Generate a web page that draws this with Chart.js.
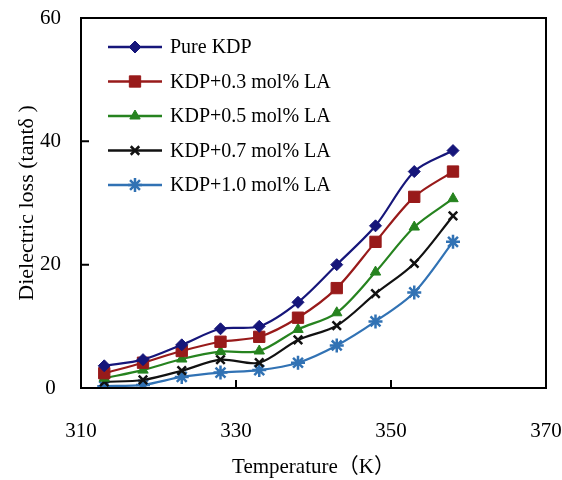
<!DOCTYPE html>
<html>
<head>
<meta charset="utf-8">
<script src="https://cdn.jsdelivr.net/npm/chart.js@4/dist/chart.umd.min.js"></script>
<style>
	body { margin: 0; background: #fff; }
	#wrap { width: 562px; height: 480px; }
</style>
</head>
<body>
<div id="wrap"><canvas id="ID_DielectricLoss" width="562" height="480"></canvas></div>
<script>
/*
  Dielectric loss vs temperature
*/
const temperatures = [313, 318, 323, 328, 333, 338, 343, 348, 353, 358];
const seriesNames = ['Pure KDP', 'KDP+0.3 mol% LA', 'KDP+0.5 mol% LA', 'KDP+0.7 mol% LA', 'KDP+1.0 mol% LA'];
const pureKDP = [3.6, 4.6, 7.0, 9.6, 10.0, 13.9, 20.0, 26.3, 35.1, 38.5];
const la03 = [2.4, 4.1, 6.0, 7.5, 8.3, 11.4, 16.2, 23.7, 31.0, 35.1];
const la05 = [1.6, 2.9, 4.7, 5.9, 6.0, 9.5, 12.2, 18.8, 26.1, 30.7];
const la07 = [1.0, 1.3, 2.8, 4.6, 4.1, 7.8, 10.1, 15.3, 20.2, 27.9];
const la10 = [0.3, 0.5, 1.8, 2.5, 2.9, 4.1, 6.9, 10.8, 15.5, 23.7];
const xTicks = [310, 330, 350, 370];
const yTicks = [0, 20, 40, 60];

const FONT = "'Liberation Serif', 'Noto Sans CJK SC', serif";
const colors = ['#16167a', '#981a1a', '#26831f', '#111111', '#3172b4'];
const markers = ['rectRot', 'rect', 'triangle', 'crossRot', 'star'];
const radii = [6, 8, 6, 6, 7];

function toPoints(values) {
	return values.map(function (v, i) { return { x: temperatures[i], y: v }; });
}

const datasets = [pureKDP, la03, la05, la07, la10].map(function (values, i) {
	return {
		label: seriesNames[i],
		data: toPoints(values),
		borderColor: colors[i],
		backgroundColor: colors[i],
		borderWidth: 2.2,
		pointStyle: markers[i],
		pointRadius: radii[i],
		pointBorderWidth: (i >= 3) ? 2.5 : 1,
		tension: 0.3
	};
});

// no extra room for label overhang, the frame is fixed
function noOverhang(scale) {
	scale.paddingLeft = 0; scale.paddingRight = 0;
	scale.paddingTop = 0; scale.paddingBottom = 0;
}

// frame, inward tick marks and the in-plot legend
const framePlugin = {
	id: 'frame',
	afterDraw: function (chart) {
		const ctx = chart.ctx, a = chart.chartArea;
		const xs = chart.scales.x, ys = chart.scales.y;
		ctx.save();
		ctx.strokeStyle = '#000';
		ctx.lineWidth = 2;
		ctx.strokeRect(a.left, a.top, a.right - a.left, a.bottom - a.top);
		ctx.beginPath();
		yTicks.slice(1, -1).forEach(function (v) {
			const y = ys.getPixelForValue(v);
			ctx.moveTo(a.left, y); ctx.lineTo(a.left + 8, y);
		});
		xTicks.slice(1, -1).forEach(function (v) {
			const x = xs.getPixelForValue(v);
			ctx.moveTo(x, a.bottom); ctx.lineTo(x, a.bottom - 8);
		});
		ctx.stroke();

		// legend
		ctx.font = '20px ' + FONT;
		ctx.textBaseline = 'middle';
		ctx.textAlign = 'left';
		chart.data.datasets.forEach(function (ds, i) {
			const y = a.top + 29 + i * 34.5;
			const x0 = a.left + 27, x1 = a.left + 81;
			ctx.strokeStyle = ds.borderColor;
			ctx.lineWidth = 2.5;
			ctx.beginPath(); ctx.moveTo(x0, y); ctx.lineTo(x1, y); ctx.stroke();
			ctx.fillStyle = ds.backgroundColor;
			ctx.lineWidth = ds.pointBorderWidth;
			if (Chart.helpers && Chart.helpers.drawPoint) {
				Chart.helpers.drawPoint(ctx, { pointStyle: ds.pointStyle, radius: ds.pointRadius, rotation: 0, borderWidth: ds.pointBorderWidth }, (x0 + x1) / 2, y);
			}
			ctx.fillStyle = '#000';
			ctx.fillText(ds.label, a.left + 89, y + 1);
		});
		ctx.restore();
	}
};

let chartLine = new Chart(document.getElementById('ID_DielectricLoss'), {
	type: 'line',
	plugins: [framePlugin],
	data: { datasets: datasets },
	options: {
		responsive: false,
		animation: false,
		layout: { padding: { top: 18, right: 16, left: 0, bottom: 0 } },
		plugins: {
			legend: { display: false },
			tooltip: { enabled: false }
		},
		scales: {
			x: {
				type: 'linear',
				min: 310,
				max: 370,
				afterBuildTicks: function (scale) { scale.ticks = xTicks.map(function (v) { return { value: v }; }); },
				afterFit: function (scale) { scale.height = 92; noOverhang(scale); },
				grid: { display: false, drawTicks: false },
				border: { display: false },
				ticks: { color: '#000', padding: 31, maxRotation: 0, font: { family: FONT, size: 21 } },
				title: { display: true, text: 'Temperature（K）', color: '#000', padding: { top: 0, bottom: 0 }, font: { family: FONT, size: 21 } }
			},
			y: {
				min: 0,
				max: 60,
				afterBuildTicks: function (scale) { scale.ticks = yTicks.map(function (v) { return { value: v }; }); },
				afterFit: function (scale) { scale.width = 81; noOverhang(scale); },
				grid: { display: false, drawTicks: false },
				border: { display: false },
				ticks: { color: '#000', padding: 20, crossAlign: 'center', font: { family: FONT, size: 21 } },
				title: { display: true, text: 'Dielectric loss (tantδ )', color: '#000', padding: { top: 14, bottom: 0 }, font: { family: FONT, size: 22 } }
			}
		}
	}
});
</script>
</body>
</html>
